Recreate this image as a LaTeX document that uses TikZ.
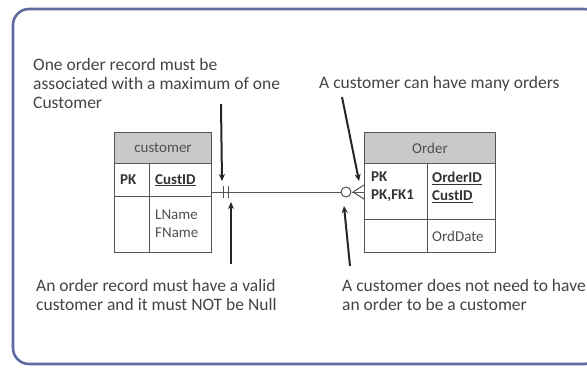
\documentclass[tikz,border=0pt]{standalone}
\usepackage{fontspec}
\setmainfont{Carlito}
\usetikzlibrary{arrows.meta}
\definecolor{frameblue}{HTML}{5F6B9E}
\definecolor{anntext}{HTML}{444444}
\definecolor{tabtext}{HTML}{505050}
\definecolor{hdrfill}{HTML}{C9C9C9}
\definecolor{gridline}{HTML}{555555}
\tikzset{
  ann/.style={anchor=north west, align=left, inner sep=0pt, text=anntext,
    font=\fontsize{17.5}{19}\selectfont},
  cell/.style={draw=gridline, line width=1pt, anchor=north west, inner sep=0pt},
  hdr/.style={cell, fill=hdrfill},
  tab/.style={inner sep=0pt, text=tabtext, font=\fontsize{15}{18}\selectfont},
  key/.style={tab, font=\fontsize{15}{18}\selectfont\bfseries, text=black!80},
  pointer/.style={line width=2pt, draw=black!85, -{Stealth[length=7pt,width=6pt]}},
  rel/.style={line width=1pt, draw=gridline},
}
\begin{document}
\begin{tikzpicture}[x=1pt,y=-1pt]
\useasboundingbox (0,0) rectangle (587,369);
\fill[white] (0,0) rectangle (587,369);
% frame
\draw[frameblue, line width=2.6pt, rounded corners=16pt] (13,9) rectangle (600,364);

% customer table
\node[hdr, minimum width=97pt, minimum height=31pt] (chdr) at (114,132) {};
\node[cell, minimum width=35pt, minimum height=33pt] (ck1) at (114,163) {};
\node[cell, minimum width=62pt, minimum height=33pt] (ck2) at (149,163) {};
\node[cell, minimum width=35pt, minimum height=56pt] (ca1) at (114,196) {};
\node[cell, minimum width=62pt, minimum height=56pt] (ca2) at (149,196) {};
\node[tab] (cname) at (chdr.center) {customer};
\node[key, anchor=base west] (cpk) at (120,184) {PK};
\node[key, anchor=base west] (cid) at (155,184) {\underline{CustID}};
\node[tab, anchor=north west, align=left] (cattr) at (155,210) {LName\\FName};

% order table
\node[hdr, minimum width=131pt, minimum height=31pt] (ohdr) at (364,132) {};
\node[cell, minimum width=63pt, minimum height=56pt] (ok1) at (364,163) {};
\node[cell, minimum width=68pt, minimum height=56pt] (ok2) at (427,163) {};
\node[cell, minimum width=63pt, minimum height=33pt] (oa1) at (364,219) {};
\node[cell, minimum width=68pt, minimum height=33pt] (oa2) at (427,219) {};
\node[tab] (oname) at (ohdr.center) {Order};
\node[key, anchor=north west, align=left] (opk) at (371,172) {PK\\PK,FK1};
\node[key, anchor=north west, align=left] (oid) at (432,172) {\underline{OrderID}\\\underline{CustID}};
\node[tab, anchor=base west] (odate) at (432,241) {OrdDate};

% relationship
\coordinate (cEnd) at (211,192);
\coordinate (oEnd) at (364,192);
\node[draw=gridline, line width=1pt, circle, minimum size=10pt, inner sep=0pt, fill=white] (opt) at (346,192) {};
\coordinate (foot) at (353,192);
\draw[rel] (cEnd) -- (opt.west);
\draw[rel] (opt.east) -- (oEnd);
\draw[rel] (foot) -- (364,185);
\draw[rel] (foot) -- (364,199);
\draw[rel] (223,186) -- (223,198);
\draw[rel] (228,186) -- (228,198);

% annotations
\node[ann] (a1) at (33,58) {One order record must be\\associated with a maximum of one\\Customer};
\node[ann] (a2) at (319,76) {A customer can have many orders};
\node[ann] (a3) at (36,279) {An order record must have a valid\\customer and it must NOT be Null};
\node[ann] (a4) at (342,279) {A customer does not need to have\\an order to be a customer};

\coordinate (t1s) at (221,104);
\coordinate (t1e) at (222,181);
\coordinate (t2s) at (231,264);
\coordinate (t2e) at (231,202);
\coordinate (t3s) at (342,97);
\coordinate (t3e) at (359,181);
\coordinate (t4s) at (350,266);
\coordinate (t4e) at (344,206);
\draw[pointer] (t1s) -- (t1e);
\draw[pointer] (t2s) -- (t2e);
\draw[pointer] (t3s) -- (t3e);
\draw[pointer] (t4s) -- (t4e);
\end{tikzpicture}
\end{document}
